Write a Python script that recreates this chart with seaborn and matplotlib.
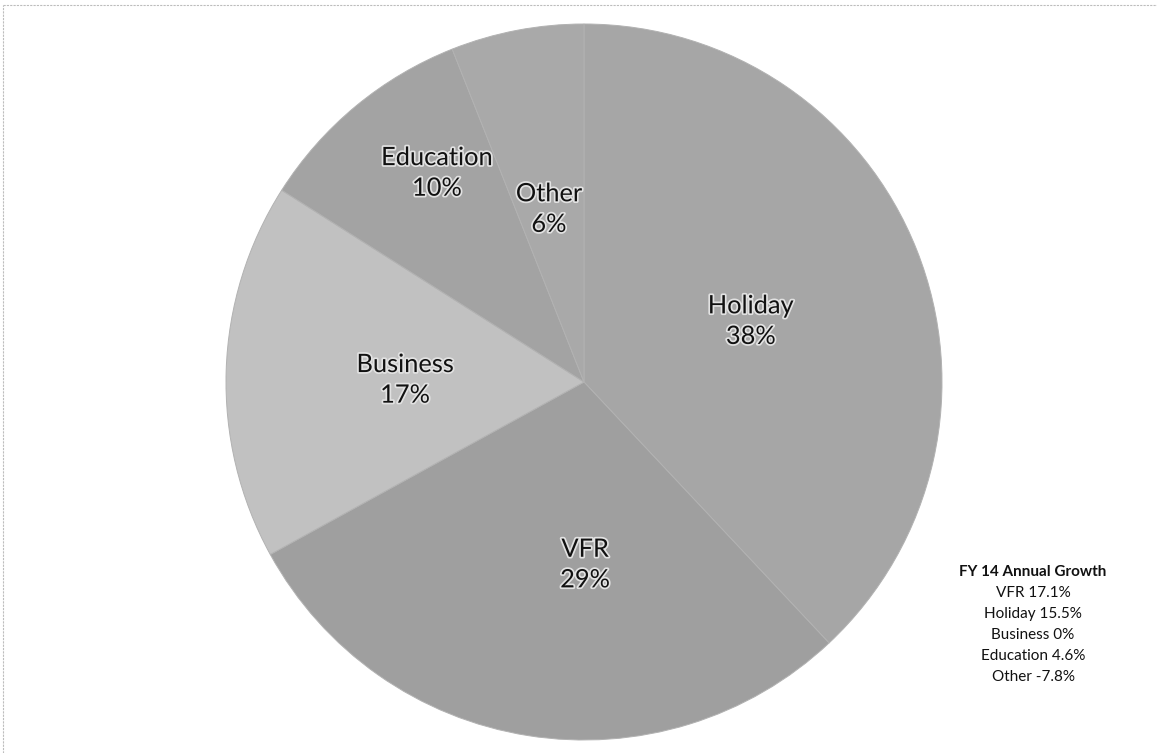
import matplotlib
matplotlib.use("Agg")
import matplotlib.pyplot as plt
import matplotlib.patheffects as pe
from matplotlib.lines import Line2D
import seaborn as sns

# ---- data ----
categories = ["Holiday", "VFR", "Business", "Education", "Other"]
shares = [38, 29, 17, 10, 6]
growth_title = "FY 14 Annual Growth"
growth_labels = ["VFR 17.1%", "Holiday 15.5%", "Business 0%", "Education 4.6%", "Other -7.8%"]

# ---- style ----
colors = ["#a6a6a6", "#9f9f9f", "#c1c1c1", "#a3a3a3", "#a9a9a9"]
# label centres (in pie-radius units, relative to pie centre)
label_pos = [(0.466, 0.170), (0.003, -0.510), (-0.500, 0.006), (-0.411, 0.584), (-0.098, 0.483)]

sns.set_theme(style="white")
plt.rcParams["font.family"] = ["Lato", "DejaVu Sans"]

W, H = 1157, 753
fig = plt.figure(figsize=(W / 100, H / 100), dpi=100)
ax = fig.add_axes([0, 0, 1, 1])

cx, cy, R = 584, 382, 358  # pixel centre and radius
wedges, _ = ax.pie(shares, colors=colors, startangle=90, counterclock=False,
                   radius=1, center=(0, 0),
                   wedgeprops=dict(edgecolor="#b2b2b2", linewidth=0.7))
ax.set_aspect("auto")
ax.set_xlim(-cx / R, (W - cx) / R)
ax.set_ylim(-(H - cy) / R, cy / R)
ax.axis("off")

halo = [pe.withStroke(linewidth=2.5, foreground="#e2e2e2")]
for cat, val, (lx, ly) in zip(categories, shares, label_pos):
    ax.text(lx, ly, f"{cat}\n{val}%", ha="center", va="center", fontsize=18.3,
            linespacing=1.4, color="#111111", path_effects=halo)

# growth annotation
tx = 1033 / W
ax.text(tx, 1 - 572 / H, growth_title, transform=fig.transFigure, ha="center",
        va="center", fontsize=11, fontweight="bold", color="#111111")
for i, g in enumerate(growth_labels):
    ax.text(tx, 1 - (593 + i * 21) / H, g, transform=fig.transFigure, ha="center",
            va="center", fontsize=11, color="#111111")

# faint frame lines (top and left)
fig.add_artist(Line2D([3 / W, 1], [1 - 5 / H, 1 - 5 / H], transform=fig.transFigure,
                      color="#bdbdbd", linewidth=0.8, linestyle=(0, (2, 1))))
fig.add_artist(Line2D([3 / W, 3 / W], [0, 1 - 5 / H], transform=fig.transFigure,
                      color="#bdbdbd", linewidth=0.8, linestyle=(0, (2, 1))))

fig.savefig("out.png", dpi=100, facecolor="white")
